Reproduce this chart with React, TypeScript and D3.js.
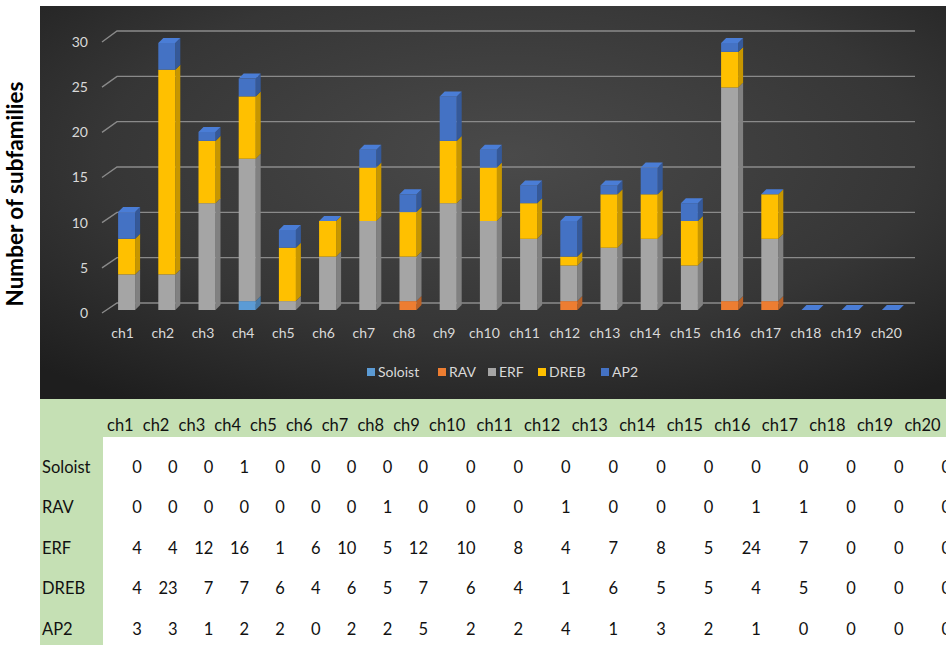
import * as d3 from 'd3';

const chromosomes = ['ch1', 'ch2', 'ch3', 'ch4', 'ch5', 'ch6', 'ch7', 'ch8', 'ch9', 'ch10',
  'ch11', 'ch12', 'ch13', 'ch14', 'ch15', 'ch16', 'ch17', 'ch18', 'ch19', 'ch20'];
const soloist = [0, 0, 0, 1, 0, 0, 0, 0, 0, 0, 0, 0, 0, 0, 0, 0, 0, 0, 0, 0];
const rav = [0, 0, 0, 0, 0, 0, 0, 1, 0, 0, 0, 1, 0, 0, 0, 1, 1, 0, 0, 0];
const erf = [4, 4, 12, 16, 1, 6, 10, 5, 12, 10, 8, 4, 7, 8, 5, 24, 7, 0, 0, 0];
const dreb = [4, 23, 7, 7, 6, 4, 6, 5, 7, 6, 4, 1, 6, 5, 5, 4, 5, 0, 0, 0];
const ap2 = [3, 3, 1, 2, 2, 0, 2, 2, 5, 2, 2, 4, 1, 3, 2, 1, 0, 0, 0, 0];

const seriesNames = ['Soloist', 'RAV', 'ERF', 'DREB', 'AP2'];
const seriesValues = [soloist, rav, erf, dreb, ap2];
const seriesColors = ['#5b9bd5', '#ed7d31', '#a5a5a5', '#ffc000', '#4472c4'];
const yTicks = [0, 5, 10, 15, 20, 25, 30];

const W = 946;
const H = 647;
const FONT = 'Lato, "Open Sans", sans-serif';

export default function App() {
  // 3D-ish bar geometry
  const depthX = 5;
  const depthY = 5;

  const x = d3.scaleBand<string>()
    .domain(chromosomes)
    .range([98, 919])
    .paddingInner(0.577)
    .paddingOuter(0.5);
  const bw = x.bandwidth();

  const yBar = d3.scaleLinear().domain([0, 30]).range([310, 43]);
  const yFront = d3.scaleLinear().domain([0, 30]).range([313, 42]);
  const yBack = d3.scaleLinear().domain([0, 30]).range([303, 31]);

  // stacked values
  const table = chromosomes.map((c, i) => {
    const row: Record<string, any> = { ch: c };
    seriesNames.forEach((s, k) => { row[s] = seriesValues[k][i]; });
    return row;
  });
  const stacked = d3.stack<any>().keys(seriesNames)(table);

  // table columns: narrow for ch1-ch9, wider for ch10-ch20
  const colEdge = d3.scaleLinear().domain([0, 9, 20]).range([105, 427, 950]);
  const rowY = d3.scalePoint<string>().domain(seriesNames).range([467, 629]);

  const legendX = [367, 438, 488, 538, 601];

  return (
    <svg width={W} height={H} style={{ position: 'absolute', left: 0, top: 0, background: '#fff' }}
      fontFamily={FONT}>
      <defs>
        <radialGradient id="bg" cx="52%" cy="38%" r="75%">
          <stop offset="0%" stopColor="#4a4a4a" />
          <stop offset="60%" stopColor="#363636" />
          <stop offset="100%" stopColor="#1e1e1e" />
        </radialGradient>
      </defs>

      {/* dark chart panel */}
      <rect x={40} y={6} width={W - 40} height={393} fill="url(#bg)" />

      {/* gridlines: diagonal floor edge + back wall line */}
      {yTicks.map(t => (
        <g key={t} stroke="#8a8a8a" strokeWidth={1.4} fill="none">
          <path d={`M102,${yFront(t)} L117,${yBack(t)} L915,${yBack(t)}`} />
        </g>
      ))}
      {yTicks.map(t => (
        <text key={'t' + t} x={88} y={yFront(t)} dy="0.35em" textAnchor="end"
          fontSize={14} fill="#d9d9d9">{t}</text>
      ))}

      {/* bars */}
      {chromosomes.map((c, i) => {
        const x0 = x(c)!;
        return (
          <g key={c}>
            {stacked.map((layer, k) => {
              const [v0, v1] = layer[i];
              const col = d3.color(seriesColors[k])!;
              const side = col.darker(0.7).formatHex();
              const top = col.brighter(0.25).formatHex();
              const yt = yBar(v1);
              const yb = yBar(v0);
              const h = yb - yt;
              const isTop = k === seriesNames.length - 1;
              if (h <= 0 && !isTop) return null;
              return (
                <g key={k}>
                  {h > 0 && (
                    <>
                      <path d={`M${x0 + bw},${yb} L${x0 + bw + depthX},${yb - depthY} L${x0 + bw + depthX},${yt - depthY} L${x0 + bw},${yt} Z`}
                        fill={side} />
                      <rect x={x0} y={yt} width={bw} height={h} fill={seriesColors[k]} />
                    </>
                  )}
                  {isTop && (
                    <path d={`M${x0},${yt} L${x0 + depthX},${yt - depthY} L${x0 + bw + depthX},${yt - depthY} L${x0 + bw},${yt} Z`}
                      fill={top} />
                  )}
                </g>
              );
            })}
          </g>
        );
      })}

      {/* x labels */}
      {chromosomes.map(c => (
        <text key={'x' + c} x={x(c)! + bw / 2 - 4} y={338} textAnchor="middle"
          fontSize={14} fill="#d9d9d9">{c}</text>
      ))}

      {/* legend */}
      {seriesNames.map((s, k) => (
        <g key={'l' + s}>
          <rect x={legendX[k]} y={368} width={8} height={8} fill={seriesColors[k]} />
          <text x={legendX[k] + 11} y={372} dy="0.35em" fontSize={14} fill="#d9d9d9">{s}</text>
        </g>
      ))}

      {/* data table */}
      <rect x={40} y={399} width={W - 40} height={38} fill="#c5e0b4" />
      <rect x={40} y={399} width={63} height={246} fill="#c5e0b4" />
      {chromosomes.map((c, i) => (
        <text key={'h' + c} x={colEdge(i) + 2} y={425} dy="0.35em" fontSize={16.5} fill="#111">{c}</text>
      ))}
      {seriesNames.map((s, k) => (
        <g key={'r' + s}>
          <text x={42} y={rowY(s)} dy="0.35em" fontSize={16.5} fill="#111">{s}</text>
          {seriesValues[k].map((v, i) => (
            <text key={i} x={colEdge(i + 1) + 1} y={rowY(s)} dy="0.35em" textAnchor="end"
              fontSize={16.5} fill="#111">{v}</text>
          ))}
        </g>
      ))}

      {/* y axis title */}
      <text transform="translate(23,194) rotate(-90)" textAnchor="middle" fontSize={22.5}
        fontWeight="bold" fill="#000">Number of subfamilies</text>
    </svg>
  );
}
